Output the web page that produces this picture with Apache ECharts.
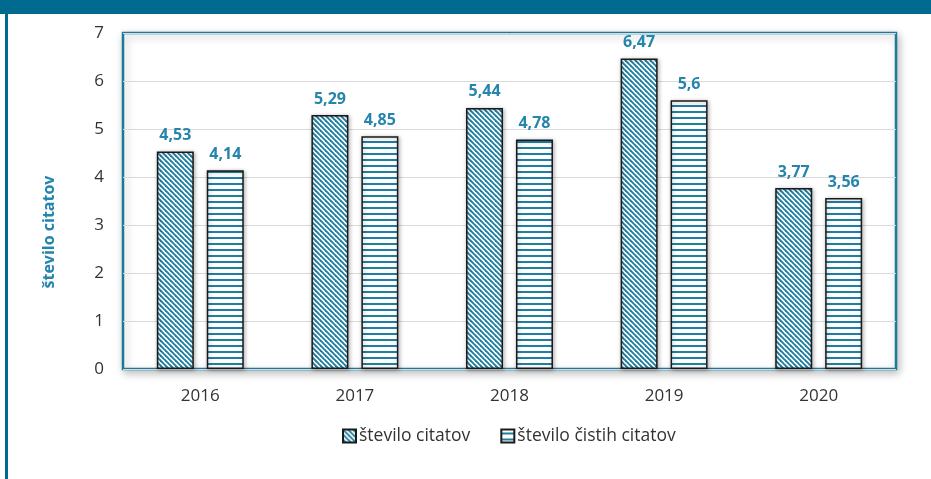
<!DOCTYPE html>
<html>
<head>
<meta charset="utf-8">
<script src="https://cdn.jsdelivr.net/npm/echarts@6/dist/echarts.min.js"></script>
<style>
html,body{margin:0;padding:0;background:#fff;}
#c{width:931px;height:479px;}
</style>
</head>
<body>
<div id="c"></div>
<script>
const categories = ['2016', '2017', '2018', '2019', '2020'];
const seriesNames = ['število citatov', 'število čistih citatov'];
const citati = [4.53, 5.29, 5.44, 6.47, 3.77];
const cistiCitati = [4.14, 4.85, 4.78, 5.6, 3.56];
const yTicks = [0, 1, 2, 3, 4, 5, 6, 7];

const TEAL = '#1f7fa3';
const FONT = '"Open Sans", sans-serif';

function diagPattern() {
  const s = 5;
  const c = document.createElement('canvas');
  c.width = s; c.height = s;
  const g = c.getContext('2d');
  g.fillStyle = '#fff'; g.fillRect(0, 0, s, s);
  g.strokeStyle = TEAL; g.lineWidth = 1.9;
  for (const k of [-s, 0, s]) {
    g.beginPath(); g.moveTo(k - 1, -1); g.lineTo(k + s + 1, s + 1); g.stroke();
  }
  return c;
}
function horizPattern() {
  const c = document.createElement('canvas');
  c.width = 6; c.height = 6;
  const g = c.getContext('2d');
  g.fillStyle = '#fff'; g.fillRect(0, 0, 6, 6);
  g.fillStyle = TEAL; g.fillRect(0, 3, 6, 2);
  return c;
}

const fmt = p => String(p.value).replace('.', ',');

const chart = echarts.init(document.getElementById('c'));
chart.setOption({
  animation: false,
  backgroundColor: '#fff',
  graphic: [
    { type: 'rect', left: 0, top: 0, shape: { width: 931, height: 14 }, style: { fill: '#006a8f' } },
    { type: 'rect', left: 5, top: 0, shape: { width: 3, height: 479 }, style: { fill: '#006a8f' } }
  ],
  grid: {
    left: 123, right: 35, top: 33, bottom: 110,
    show: true, borderColor: '#1a7a9e', borderWidth: 2.5, backgroundColor: '#fff',
    shadowBlur: 8, shadowColor: 'rgba(0,0,0,0.25)', shadowOffsetX: 2, shadowOffsetY: 3
  },
  legend: {
    left: 337, top: 422, itemWidth: 13, itemHeight: 13, itemGap: 30,
    icon: 'rect',
    textStyle: { fontFamily: FONT, fontSize: 17.5, color: '#333', padding: [0, 0, 0, -2] },
    data: seriesNames
  },
  xAxis: {
    type: 'category', data: categories,
    axisLine: { show: false }, axisTick: { show: false },
    axisLabel: { fontFamily: FONT, fontSize: 17, color: '#333', margin: 19 }
  },
  yAxis: {
    type: 'value', min: yTicks[0], max: yTicks[yTicks.length - 1], interval: 1,
    name: 'število citatov', nameLocation: 'middle', nameGap: 66, nameRotate: 90,
    nameTextStyle: { fontFamily: FONT, fontSize: 16, fontWeight: 'bold', color: '#2585ad', padding: [0, 62, 0, 0] },
    axisLine: { show: false }, axisTick: { show: false },
    axisLabel: { fontFamily: FONT, fontSize: 17, color: '#333', margin: 19 },
    splitLine: { lineStyle: { color: '#d9d9d9', width: 1 } }
  },
  series: [
    {
      name: seriesNames[0], type: 'bar', data: citati, barWidth: 37, barGap: '35%',
      itemStyle: { color: { image: diagPattern(), repeat: 'repeat' }, borderColor: '#1a1a1a', borderWidth: 1.5,
        shadowBlur: 4, shadowColor: 'rgba(0,0,0,0.3)', shadowOffsetX: 1, shadowOffsetY: 1 },
      label: { show: true, position: 'top', distance: 8, formatter: fmt,
        fontFamily: FONT, fontSize: 16, fontWeight: 'bold', color: '#2585ad' }
    },
    {
      name: seriesNames[1], type: 'bar', data: cistiCitati, barWidth: 37,
      itemStyle: { color: { image: horizPattern(), repeat: 'repeat' }, borderColor: '#1a1a1a', borderWidth: 1.5,
        shadowBlur: 4, shadowColor: 'rgba(0,0,0,0.3)', shadowOffsetX: 1, shadowOffsetY: 1 },
      label: { show: true, position: 'top', distance: 8, formatter: fmt,
        fontFamily: FONT, fontSize: 16, fontWeight: 'bold', color: '#2585ad' }
    }
  ]
});
</script>
</body>
</html>
